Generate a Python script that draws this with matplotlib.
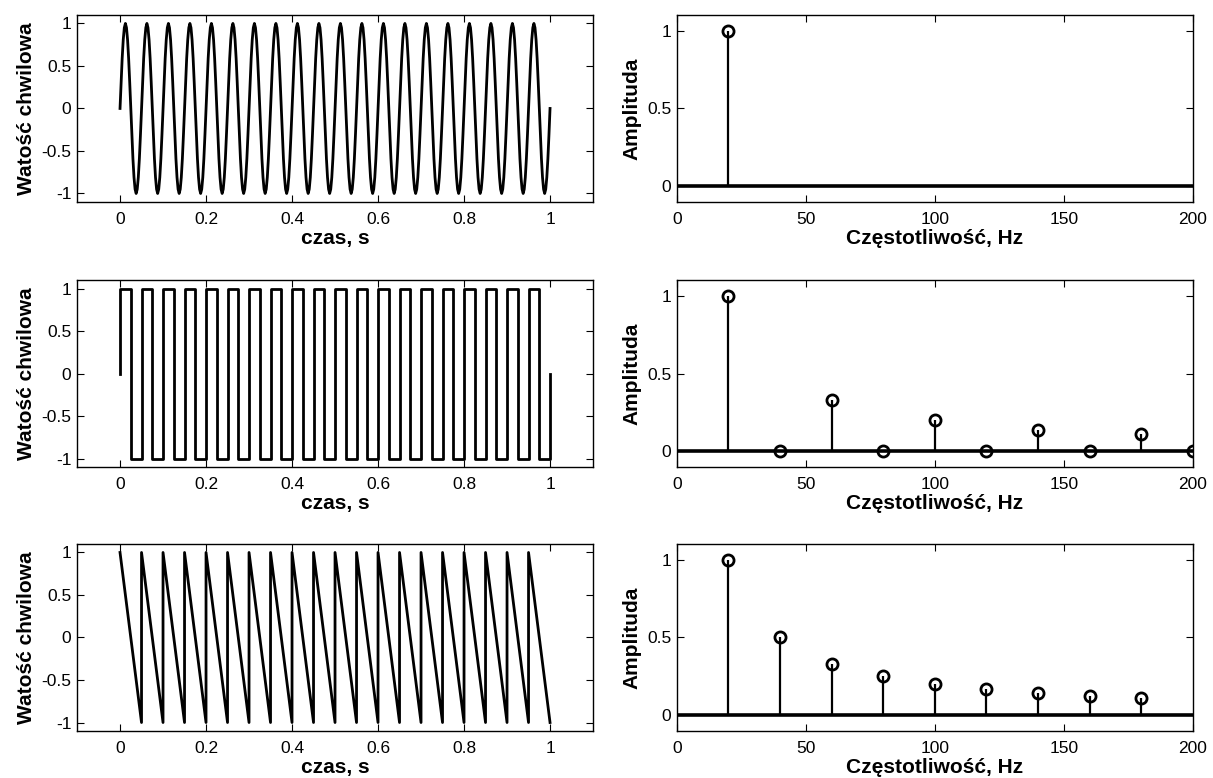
import numpy as np
import matplotlib
matplotlib.use('Agg')
import matplotlib.pyplot as plt

plt.rcParams['font.family'] = ['Liberation Sans', 'DejaVu Sans']
plt.rcParams['axes.unicode_minus'] = False

# signal parameters
f0 = 20            # Hz
n_periods = 20
period = 1.0 / f0

# one period of the sampled sine (20 samples per period)
sine_period = [0.00, 0.31, 0.59, 0.81, 0.95, 1.00, 0.95, 0.81, 0.59, 0.31,
               0.00, -0.31, -0.59, -0.81, -0.95, -1.00, -0.95, -0.81, -0.59, -0.31]
# square wave levels for each half period
square_levels = [1, -1]
# sawtooth: value at start and end of each period
saw_levels = [1, -1]

# spectra (normalised amplitudes)
sine_freqs = [20]
sine_amps = [1.0]
square_freqs = [20, 40, 60, 80, 100, 120, 140, 160, 180, 200]
square_amps = [1.0, 0.0, 0.33, 0.0, 0.20, 0.0, 0.14, 0.0, 0.11, 0.0]
saw_freqs = [20, 40, 60, 80, 100, 120, 140, 160, 180]
saw_amps = [1.0, 0.50, 0.33, 0.25, 0.20, 0.167, 0.143, 0.125, 0.111]

time_ticks = [0, 0.2, 0.4, 0.6, 0.8, 1]
time_labels = ['0', '0.2', '0.4', '0.6', '0.8', '1']
val_ticks = [-1, -0.5, 0, 0.5, 1]
val_labels = ['-1', '-0.5', '0', '0.5', '1']
freq_ticks = [0, 50, 100, 150, 200]
amp_ticks = [0, 0.5, 1]
amp_labels = ['0', '0.5', '1']

# build the time series
n_sine = len(sine_period)
t_sine = np.arange(n_periods * n_sine + 1) * period / n_sine
y_sine = np.append(np.tile(sine_period, n_periods), sine_period[0])

half = period / 2
edges = np.arange(2 * n_periods) * half
t_sq = np.concatenate([[0], edges, [1]])
y_sq = np.concatenate([[0], np.tile(square_levels, n_periods), [0]])

starts = np.arange(n_periods) * period
t_saw = np.column_stack([starts, starts + period]).ravel()
y_saw = np.tile(saw_levels, n_periods)

fig = plt.figure(figsize=(12.13, 7.78), dpi=100)

left_x, right_x, w, h = 0.0635, 0.558, 0.4254, 0.2404
bottoms = [0.7404, 0.3997, 0.0604]

signals = [(t_sine, y_sine, 'default'), (t_sq, y_sq, 'steps-post'), (t_saw, y_saw, 'default')]
spectra = [(sine_freqs, sine_amps), (square_freqs, square_amps), (saw_freqs, saw_amps)]

lbl_font = dict(fontsize=15, fontweight='bold')


def style_axes(ax):
    ax.tick_params(direction='in', top=True, right=True, length=5, width=0.8,
                   labelsize=12.5)
    ax.tick_params(axis='x', pad=7.5)
    ax.tick_params(axis='y', pad=4)
    for s in ax.spines.values():
        s.set_linewidth(1.0)


for i in range(3):
    ax = fig.add_axes([left_x, bottoms[i], w, h])
    t, y, ds = signals[i]
    ax.plot(t, y, color='k', lw=2.0, drawstyle=ds)
    ax.set_xlim(-0.1, 1.1)
    ax.set_ylim(-1.1, 1.1)
    ax.set_xticks(time_ticks)
    ax.set_xticklabels(time_labels)
    ax.set_yticks(val_ticks)
    ax.set_yticklabels(val_labels)
    ax.set_xlabel('czas, s', labelpad=1, **lbl_font)
    ax.set_ylabel('Watość chwilowa', labelpad=4, **lbl_font)
    style_axes(ax)

    ax2 = fig.add_axes([right_x, bottoms[i], w, h])
    fr, am = spectra[i]
    ml, sl, bl = ax2.stem(fr, am, linefmt='k-', markerfmt='ko', basefmt=' ')
    plt.setp(sl, linewidth=1.6)
    plt.setp(ml, markerfacecolor='none', markeredgecolor='k', markersize=8,
             markeredgewidth=2.0)
    ax2.axhline(0, color='k', lw=2.6, zorder=1)
    ax2.set_xlim(0, 200)
    ax2.set_ylim(-0.1, 1.1)
    ax2.set_xticks(freq_ticks)
    ax2.set_yticks(amp_ticks)
    ax2.set_yticklabels(amp_labels)
    ax2.set_xlabel('Częstotliwość, Hz', labelpad=1, **lbl_font)
    ax2.set_ylabel('Amplituda', labelpad=4, **lbl_font)
    style_axes(ax2)

fig.savefig('out.png', dpi=100)
